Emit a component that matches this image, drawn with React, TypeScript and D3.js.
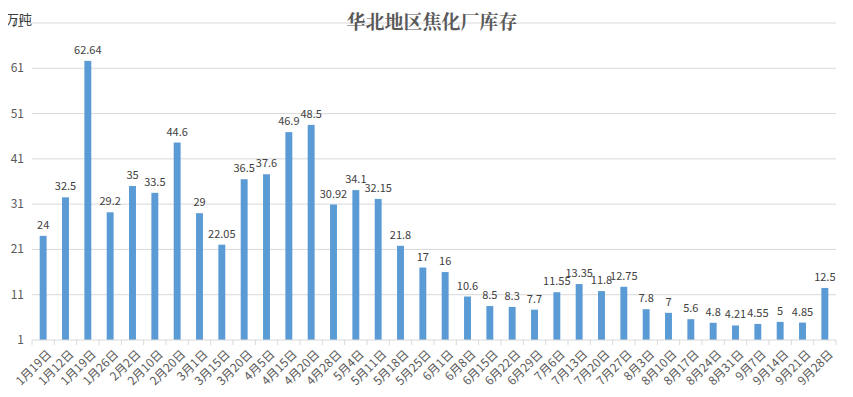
import React, { useRef, useEffect } from 'react';
import * as d3 from 'd3';

const dates = [
  '1月19日', '1月12日', '1月19日', '1月26日', '2月2日', '2月10日', '2月20日', '3月1日', '3月15日',
  '3月20日', '4月5日', '4月15日', '4月20日', '4月28日', '5月4日', '5月11日', '5月18日', '5月25日',
  '6月1日', '6月8日', '6月15日', '6月22日', '6月29日', '7月6日', '7月13日', '7月20日', '7月27日',
  '8月3日', '8月10日', '8月17日', '8月24日', '8月31日', '9月7日', '9月14日', '9月21日', '9月28日'
];
const stock = [
  24, 32.5, 62.64, 29.2, 35, 33.5, 44.6, 29, 22.05,
  36.5, 37.6, 46.9, 48.5, 30.92, 34.1, 32.15, 21.8, 17,
  16, 10.6, 8.5, 8.3, 7.7, 11.55, 13.35, 11.8, 12.75,
  7.8, 7, 5.6, 4.8, 4.21, 4.55, 5, 4.85, 12.5
];
const yTicks = [1, 11, 21, 31, 41, 51, 61, 71];

const W = 853;
const H = 397;

export default function App() {
  const svgRef = useRef<SVGSVGElement>(null);

  useEffect(() => {
    if (!svgRef.current) return;
    const svg = d3.select(svgRef.current);
    svg.selectAll('*').remove();

    const margin = { top: 23, right: 17, bottom: 57, left: 32 };
    const innerW = W - margin.left - margin.right;
    const innerH = H - margin.top - margin.bottom;
    const font = '"Microsoft YaHei", "Noto Sans CJK SC", sans-serif';

    // 外枠
    svg.append('rect')
      .attr('x', 0.5).attr('y', 0.5)
      .attr('width', W - 1).attr('height', H - 1)
      .attr('fill', '#fff')
      .attr('stroke', '#d9d9d9');

    const g = svg.append('g').attr('transform', `translate(${margin.left},${margin.top})`);

    const x = d3.scaleBand<number>()
      .domain(dates.map((_, i) => i))
      .range([0, innerW])
      .paddingInner(0.69)
      .paddingOuter(0.345);

    const y = d3.scaleLinear().domain([1, 71]).range([innerH, 0]);

    // グリッド
    g.selectAll('.grid')
      .data(yTicks.slice(1))
      .enter()
      .append('line')
      .attr('x1', 0).attr('x2', innerW)
      .attr('y1', d => y(d)).attr('y2', d => y(d))
      .attr('stroke', '#d9d9d9')
      .attr('stroke-width', 1);

    // y ラベル
    g.selectAll('.ytick')
      .data(yTicks)
      .enter()
      .append('text')
      .attr('x', -8)
      .attr('y', d => y(d) + 4)
      .attr('text-anchor', 'end')
      .attr('font-size', '12px')
      .attr('font-family', font)
      .attr('fill', '#595959')
      .text(d => d);

    // 棒
    g.selectAll('.bar')
      .data(stock)
      .enter()
      .append('rect')
      .attr('x', (_, i) => x(i)!)
      .attr('y', d => y(d))
      .attr('width', x.bandwidth())
      .attr('height', d => innerH - y(d))
      .attr('fill', '#5b9bd5');

    // 値ラベル
    g.selectAll('.val')
      .data(stock)
      .enter()
      .append('text')
      .attr('x', (_, i) => x(i)! + x.bandwidth() / 2)
      .attr('y', d => y(d) - 7)
      .attr('text-anchor', 'middle')
      .attr('font-size', '11px')
      .attr('font-family', font)
      .attr('fill', '#404040')
      .text(d => d);

    // x 軸
    g.append('line')
      .attr('x1', 0).attr('x2', innerW)
      .attr('y1', innerH).attr('y2', innerH)
      .attr('stroke', '#d9d9d9');

    const step = x.step();
    g.selectAll('.xtick')
      .data(d3.range(dates.length + 1))
      .enter()
      .append('line')
      .attr('x1', d => d * step).attr('x2', d => d * step)
      .attr('y1', innerH).attr('y2', innerH + 5)
      .attr('stroke', '#d9d9d9');

    g.selectAll('.xlabel')
      .data(dates)
      .enter()
      .append('text')
      .attr('transform', (_, i) => `translate(${x(i)! + x.bandwidth() / 2 + 9},${innerH + 15}) rotate(-45)`)
      .attr('text-anchor', 'end')
      .attr('font-size', '12px')
      .attr('font-family', font)
      .attr('fill', '#595959')
      .text(d => d);

    // タイトル
    svg.append('text')
      .attr('x', 432)
      .attr('y', 29)
      .attr('text-anchor', 'middle')
      .attr('font-size', '19px')
      .attr('font-weight', 'bold')
      .attr('font-family', '"Noto Serif CJK SC", "Noto Sans CJK SC", serif')
      .attr('fill', '#595959')
      .text('华北地区焦化厂库存');

    svg.append('text')
      .attr('x', 6)
      .attr('y', 24)
      .attr('font-size', '13px')
      .attr('font-family', font)
      .attr('fill', '#404040')
      .text('万吨');
  }, []);

  return <svg ref={svgRef} width={W} height={H} style={{ display: 'block', margin: '-8px' }} />;
}
